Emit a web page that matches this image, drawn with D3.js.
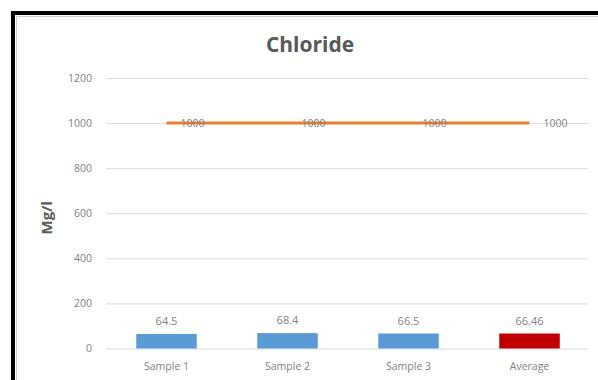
<!DOCTYPE html>
<html>
<head>
<meta charset="utf-8">
<script src="https://cdn.jsdelivr.net/npm/d3@7"></script>
<style>
  html, body { margin: 0; padding: 0; background: #fff; }
  svg { display: block; }
</style>
</head>
<body>
<svg id="chart" width="598" height="380"></svg>
<script>
// Chloride concentration per sample, with the 1000 Mg/l limit line
const categories = ["Sample 1", "Sample 2", "Sample 3", "Average"];
const values = [64.5, 68.4, 66.5, 66.46];
const limitValues = [1000, 1000, 1000, 1000];
const yTicks = [0, 200, 400, 600, 800, 1000, 1200];
const barColors = ["#5b9bd5", "#5b9bd5", "#5b9bd5", "#c00000"];

const svg = d3.select("#chart");
const W = 598, H = 380;
const margin = { top: 78, right: 8, bottom: 31, left: 106 };

const x = d3.scaleBand()
  .domain(categories)
  .range([margin.left, W - margin.right])
  .paddingInner(0.5)
  .paddingOuter(0.25);

const y = d3.scaleLinear()
  .domain([0, 1200])
  .range([H - margin.bottom - 0.5, margin.top]);

const font = "'Open Sans', 'Noto Sans', sans-serif";

// frame: heavy black top and left edges
svg.append("path")
  .attr("d", `M13,${H} L13,13 L${W},13`)
  .attr("fill", "none")
  .attr("stroke", "#000")
  .attr("stroke-width", 4);
svg.append("path")
  .attr("d", `M16.5,${H} L16.5,16.5 L${W},16.5`)
  .attr("fill", "none")
  .attr("stroke", "#cfcfcf")
  .attr("stroke-width", 1);

// title
svg.append("text")
  .attr("x", 310).attr("y", 52)
  .attr("text-anchor", "middle")
  .attr("font-family", font)
  .attr("font-weight", "bold")
  .attr("font-size", 21)
  .attr("fill", "#595959")
  .text("Chloride");

// y axis title
svg.append("text")
  .attr("transform", `translate(52,${y(580)}) rotate(-90)`)
  .attr("text-anchor", "middle")
  .attr("font-family", font)
  .attr("font-weight", "bold")
  .attr("font-size", 15)
  .attr("fill", "#595959")
  .text("Mg/l");

// gridlines + tick labels via axis
const yAxis = d3.axisLeft(y)
  .tickValues(yTicks)
  .tickSize(-(W - margin.right - margin.left - 2))
  .tickPadding(14)
  .tickFormat(d3.format("d"));

const gy = svg.append("g")
  .attr("transform", `translate(${margin.left},0)`)
  .call(yAxis);
gy.select(".domain").remove();
gy.selectAll(".tick line").attr("stroke", "#d9d9d9").attr("stroke-width", 1);
gy.selectAll(".tick text")
  .attr("font-family", font)
  .attr("font-size", 10.5)
  .attr("fill", "#7f7f7f");

// category axis
const xAxis = d3.axisBottom(x).tickSize(0).tickPadding(14);
const gx = svg.append("g")
  .attr("transform", `translate(0,${y(0)})`)
  .call(xAxis);
gx.select(".domain").remove();
gx.selectAll(".tick text")
  .attr("font-family", font)
  .attr("font-size", 10.5)
  .attr("fill", "#7f7f7f");

// bars
svg.append("g").selectAll("rect")
  .data(categories)
  .join("rect")
  .attr("x", d => x(d))
  .attr("width", x.bandwidth())
  .attr("y", (d, i) => y(values[i]))
  .attr("height", (d, i) => y(0) - y(values[i]))
  .attr("fill", (d, i) => barColors[i]);

// bar value labels
svg.append("g").selectAll("text")
  .data(categories)
  .join("text")
  .attr("x", d => x(d) + x.bandwidth() / 2)
  .attr("y", (d, i) => y(values[i]) - 9)
  .attr("text-anchor", "middle")
  .attr("font-family", font)
  .attr("font-size", 11)
  .attr("fill", "#7f7f7f")
  .text((d, i) => String(values[i]));

// limit line
const line = d3.line()
  .x((d, i) => x(categories[i]) + x.bandwidth() / 2)
  .y(d => y(d));
svg.append("path")
  .datum(limitValues)
  .attr("d", line)
  .attr("fill", "none")
  .attr("stroke", "#ed7d31")
  .attr("stroke-width", 3);

// limit labels, right of each point
svg.append("g").selectAll("text")
  .data(limitValues)
  .join("text")
  .attr("x", (d, i) => x(categories[i]) + x.bandwidth() / 2 + 14)
  .attr("y", d => y(d))
  .attr("dy", "0.35em")
  .attr("font-family", font)
  .attr("font-size", 10.5)
  .attr("fill", "#7f7f7f")
  .text(d => d);
</script>
</body>
</html>
